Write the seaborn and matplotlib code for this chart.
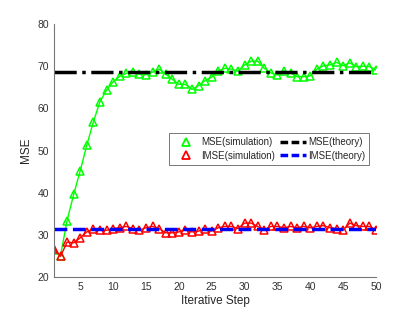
import numpy as np
import matplotlib
matplotlib.use("Agg")
import matplotlib.pyplot as plt
from matplotlib.lines import Line2D
import pandas as pd
import seaborn as sns

# values
steps = list(range(1, 51))
mse_sim = [26.5, 25.1, 33.4, 39.6, 45.2, 51.3, 56.8, 61.6, 64.3, 66.3,
           67.6, 68.3, 68.6, 68.1, 68.0, 68.6, 69.3, 68.1, 66.9, 65.7,
           65.7, 64.5, 65.4, 66.6, 67.4, 68.9, 69.5, 69.3, 68.8, 70.3,
           71.2, 71.2, 69.5, 68.4, 67.9, 68.9, 68.4, 67.5, 67.5, 67.7,
           69.3, 70.1, 70.3, 70.9, 70.1, 70.8, 69.9, 70.0, 69.9, 69.1]
imse_sim = [26.7, 24.9, 28.3, 28.1, 29.3, 30.7, 31.3, 31.1, 31.1, 31.5,
            31.7, 32.0, 31.5, 31.1, 31.7, 32.0, 31.5, 30.5, 30.5, 30.7,
            31.2, 30.7, 30.9, 31.3, 30.9, 31.7, 32.0, 32.0, 31.5, 32.8,
            32.8, 32.0, 31.2, 32.0, 32.0, 31.7, 32.0, 31.7, 32.0, 31.7,
            32.0, 32.2, 31.7, 31.5, 31.1, 32.8, 32.2, 32.0, 32.0, 31.2]
mse_theory = 68.6
imse_theory = 31.5

df = pd.DataFrame({"step": steps, "mse": mse_sim, "imse": imse_sim})

sns.set_style("white")
plt.rcParams["font.family"] = ["Liberation Sans", "DejaVu Sans"]

fig = plt.figure(figsize=(4.15, 3.12), dpi=100)
ax = fig.add_axes([0.130, 0.112, 0.776, 0.811])

green = (0, 1, 0)
red = (1, 0, 0)
blue = (0, 0, 1)

sns.lineplot(data=df, x="step", y="mse", ax=ax, color=green, lw=1,
             marker="^", markersize=6, markerfacecolor="none",
             markeredgecolor=green, markeredgewidth=1.1)
sns.lineplot(data=df, x="step", y="imse", ax=ax, color=red, lw=1,
             marker="^", markersize=6, markerfacecolor="none",
             markeredgecolor=red, markeredgewidth=1.1)
ax.axhline(mse_theory, color="black", lw=2.5, ls="-.")
ax.axhline(imse_theory, color=blue, lw=2.5, ls="--")

ax.set_xlim(1, 50)
ax.set_ylim(20, 80)
ax.set_xticks(range(5, 51, 5))
ax.set_yticks(range(20, 81, 10))
ax.set_xlabel("Iterative Step", fontsize=8.5, labelpad=2)
ax.set_ylabel("MSE", fontsize=8.5, labelpad=4)
ax.tick_params(direction="in", length=3, labelsize=7.5, colors="#404040",
               labelcolor="#333333", width=0.7)
for s in ["top", "right"]:
    ax.spines[s].set_visible(False)
for s in ["left", "bottom"]:
    ax.spines[s].set_color("#777777")
    ax.spines[s].set_linewidth(0.8)

# legend: markers only for the simulations, dashed bars for the theory
handles = [
    Line2D([], [], ls="none", marker="^", markersize=6, markerfacecolor="none",
           markeredgecolor=green, markeredgewidth=1.3),
    Line2D([], [], ls="none", marker="^", markersize=6, markerfacecolor="none",
           markeredgecolor=red, markeredgewidth=1.3),
    Line2D([], [], color="black", lw=2.5, ls=(0, (2.2, 1.0))),
    Line2D([], [], color=blue, lw=2.5, ls=(0, (2.2, 1.0))),
]
labels = ["MSE(simulation)", "IMSE(simulation)", "MSE(theory)", "IMSE(theory)"]
leg = ax.legend(handles, labels, ncol=2, loc="upper left",
                bbox_to_anchor=(0.357, 0.568),
                fontsize=7.0, frameon=True, fancybox=False, borderpad=0.4,
                handlelength=2.7, handletextpad=0.2, columnspacing=0.5,
                labelspacing=0.35, borderaxespad=0)
leg.get_frame().set_edgecolor("#555555")
leg.get_frame().set_linewidth(0.7)

fig.savefig("out.png", dpi=100)
